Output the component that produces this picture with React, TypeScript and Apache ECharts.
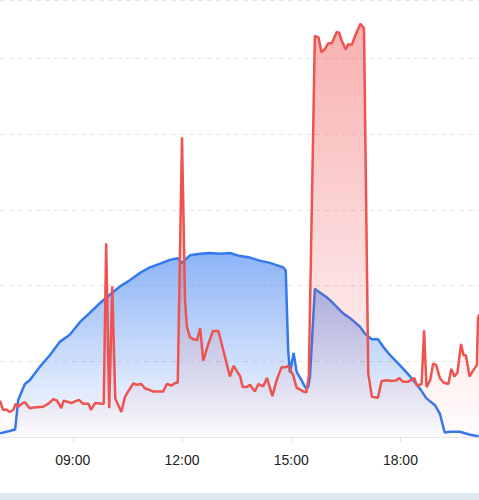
import React, { useEffect, useRef } from "react";
import * as echarts from "echarts";

// Solar production (blue)
const blueTimes = [
  "07:00", "07:16", "07:25", "07:30", "07:41", "07:49", "08:06", "08:22", "08:39", "08:55",
  "09:12", "09:28", "09:45", "10:01", "10:18", "10:34", "10:51", "11:07", "11:24", "11:40",
  "11:53", "12:00", "12:13", "12:30", "12:46", "13:03", "13:19", "13:36", "13:52", "14:08",
  "14:25", "14:36", "14:47", "14:51", "14:55", "14:58", "15:04", "15:09", "15:17", "15:23",
  "15:25", "15:28", "15:31", "15:39", "15:45", "15:58", "16:09", "16:26", "16:37", "16:53",
  "17:01", "17:13", "17:23", "17:32", "17:43", "17:59", "18:16", "18:32", "18:43", "18:57",
  "19:05", "19:13", "19:22", "19:38", "19:55", "20:09",
];
const blueValues = [
  0.05, 0.08, 0.1, 0.49, 0.7, 0.75, 0.93, 1.08, 1.26, 1.35,
  1.52, 1.64, 1.77, 1.88, 1.99, 2.07, 2.17, 2.24, 2.29, 2.34,
  2.36, 2.3, 2.4, 2.42, 2.43, 2.42, 2.43, 2.39, 2.37, 2.33,
  2.3, 2.27, 2.24, 2.2, 1.15, 0.85, 1.11, 0.86, 0.75, 0.66,
  0.64, 0.66, 0.8, 1.96, 1.92, 1.85, 1.77, 1.63, 1.57, 1.46,
  1.37, 1.29, 1.29, 1.19, 1.08, 0.95, 0.8, 0.64, 0.51, 0.42,
  0.31, 0.06, 0.07, 0.07, 0.03, 0.01,
];

// Consumption (red)
const redTimes = [
  "07:00", "07:05", "07:11", "07:16", "07:22", "07:26", "07:30", "07:36", "07:41", "07:49",
  "07:55", "08:11", "08:20", "08:28", "08:34", "08:41", "08:45", "08:58", "09:10", "09:17",
  "09:26", "09:30", "09:37", "09:48", "09:51", "09:55", "10:00", "10:05", "10:10", "10:15",
  "10:20", "10:26", "10:31", "10:40", "10:45", "10:53", "10:59", "11:04", "11:13", "11:29",
  "11:35", "11:43", "11:48", "11:53", "12:00", "12:05", "12:08", "12:13", "12:19", "12:25",
  "12:30", "12:35", "12:43", "12:51", "13:00", "13:08", "13:19", "13:25", "13:36", "13:40",
  "13:47", "13:52", "14:00", "14:06", "14:14", "14:20", "14:29", "14:36", "14:44", "14:50",
  "14:55", "15:03", "15:09", "15:14", "15:20", "15:25", "15:29", "15:39", "15:45", "15:50",
  "15:56", "16:01", "16:07", "16:15", "16:19", "16:24", "16:30", "16:34", "16:40", "16:45",
  "16:54", "17:00", "17:07", "17:13", "17:23", "17:29", "17:37", "17:46", "17:54", "17:58",
  "18:04", "18:13", "18:23", "18:27", "18:35", "18:39", "18:43", "18:49", "18:54", "18:59",
  "19:05", "19:11", "19:19", "19:24", "19:29", "19:34", "19:40", "19:44", "19:48", "19:54",
  "20:00", "20:06", "20:08", "20:10",
];
const redValues = [
  0.48, 0.36, 0.36, 0.33, 0.36, 0.44, 0.4, 0.44, 0.46, 0.38,
  0.39, 0.4, 0.44, 0.5, 0.48, 0.38, 0.48, 0.45, 0.49, 0.44,
  0.44, 0.36, 0.45, 0.44, 0.44, 2.56, 0.38, 1.99, 0.51, 0.42,
  0.33, 0.53, 0.6, 0.71, 0.69, 0.7, 0.64, 0.63, 0.6, 0.6,
  0.7, 0.68, 0.71, 0.72, 3.96, 1.81, 1.46, 1.32, 1.29, 1.28,
  1.44, 1.01, 1.22, 1.4, 1.4, 1.15, 0.8, 0.94, 0.8, 0.66,
  0.66, 0.69, 0.6, 0.7, 0.67, 0.78, 0.54, 0.75, 0.92, 0.92,
  0.94, 0.82, 0.65, 0.63, 0.6, 0.59, 0.8, 5.3, 5.28, 5.08,
  5.13, 5.2, 5.2, 5.35, 5.34, 5.22, 5.12, 5.19, 5.18, 5.29,
  5.46, 5.4, 0.84, 0.53, 0.52, 0.74, 0.75, 0.74, 0.75, 0.78,
  0.73, 0.73, 0.78, 0.68, 0.7, 1.41, 0.66, 0.75, 0.97, 0.95,
  0.78, 0.72, 0.7, 0.9, 0.8, 0.85, 1.23, 1.08, 1.08, 0.8,
  0.88, 0.95, 1.57, 1.62,
];

const tickHours = [9, 12, 15, 18];

const toHours = (t: string) => {
  const [h, m] = t.split(":").map(Number);
  return h + m / 60;
};
const pair = (times: string[], vals: number[]) => times.map((t, i) => [toHours(t), vals[i]]);
const fmt = (v: number) => `${String(Math.floor(v)).padStart(2, "0")}:00`;

export default function App() {
  const ref = useRef<HTMLDivElement>(null);
  useEffect(() => {
    if (!ref.current) return;
    const chart = echarts.init(ref.current, undefined, { renderer: "svg" });
    chart.setOption({
      animation: false,
      backgroundColor: "#ffffff",
      grid: { left: 0, right: 0, top: 0, bottom: 63, containLabel: false },
      xAxis: {
        type: "value",
        min: 7,
        max: 7 + 479 / 36.4,
        axisLine: { show: true, lineStyle: { color: "#e6e6e6", width: 1 } },
        axisTick: { show: true, customValues: tickHours, length: 5, lineStyle: { color: "#e0e0e0" } },
        axisLabel: {
          customValues: tickHours,
          formatter: (v: number) => fmt(v),
          color: "#222222",
          fontSize: 14,
          fontFamily: "Liberation Sans, Arial, sans-serif",
          margin: 16,
        },
        splitLine: { show: false },
      },
      yAxis: {
        type: "value",
        min: 0,
        max: 437 / 75.7,
        interval: 1,
        axisLine: { show: false },
        axisTick: { show: false },
        axisLabel: { show: false },
        splitLine: { show: true, lineStyle: { color: "#e6e6e6", type: [5, 4], width: 1 } },
      },
      graphic: [
        {
          type: "rect",
          left: 0,
          top: 493,
          shape: { width: 479, height: 7 },
          style: { fill: "#e2e8f0" },
          silent: true,
        },
      ],
      series: [
        {
          name: "Solar",
          type: "line",
          data: pair(blueTimes, blueValues),
          symbol: "none",
          lineStyle: { color: "#3478ee", width: 2.5 },
          itemStyle: { color: "#3478ee" },
          areaStyle: {
            color: new echarts.graphic.LinearGradient(0, 0, 0, 1, [
              { offset: 0, color: "rgba(52,120,238,0.8)" },
              { offset: 1, color: "rgba(52,120,238,0.02)" },
            ]),
          },
          z: 2,
        },
        {
          name: "Consumption",
          type: "line",
          data: pair(redTimes, redValues),
          symbol: "none",
          lineStyle: { color: "#ef5350", width: 2.5 },
          itemStyle: { color: "#ef5350" },
          areaStyle: {
            color: new echarts.graphic.LinearGradient(0, 0, 0, 1, [
              { offset: 0, color: "rgba(239,68,68,0.6)" },
              { offset: 1, color: "rgba(239,68,68,0.02)" },
            ]),
          },
          z: 3,
        },
      ],
    });
    return () => chart.dispose();
  }, []);
  return (
    <div
      ref={ref}
      style={{ position: "fixed", left: 0, top: 0, width: 479, height: 500 }}
    />
  );
}
